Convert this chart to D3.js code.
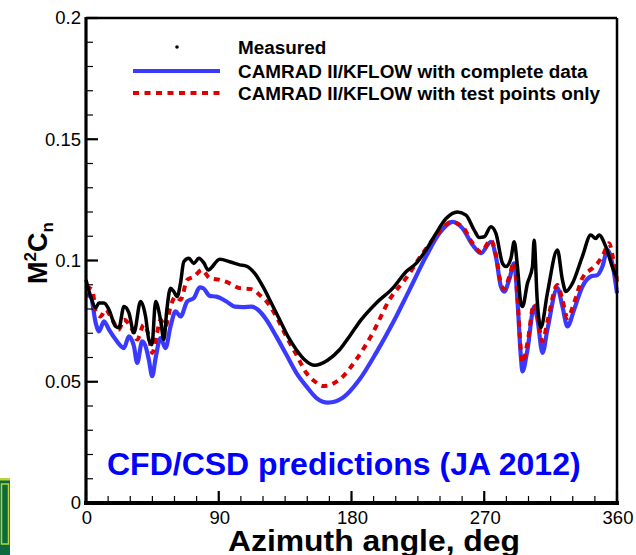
<!DOCTYPE html>
<html>
<head>
    <meta charset="utf-8">
    <script src="https://d3js.org/d3.v7.min.js"></script>
    <style>
        body { margin: 0; background: #fff; }
        svg text { font-family: Arial, "Liberation Sans", sans-serif; }
    </style>
</head>
<body>
<div id="chart"></div>
<script>
    // measured M^2Cn vs azimuth [deg, value]
    const measured = [
        [0, 0.0920], [3.2, 0.0851], [6.6, 0.0805], [8.8, 0.0825], [12.2, 0.0825], [15.6, 0.0797],
        [20.1, 0.0728], [22.3, 0.0723], [25.7, 0.0810], [29.1, 0.0784], [32.5, 0.0702], [37.0, 0.0831],
        [40.4, 0.0769], [42.6, 0.0674], [44.7, 0.0653], [47.2, 0.0831], [50.5, 0.0756], [52.8, 0.0674],
        [54.8, 0.0797], [57.3, 0.0886], [59.5, 0.0872], [61.8, 0.0851], [64.1, 0.0908], [66.3, 0.0995],
        [69.7, 0.1009], [73.1, 0.0988], [76.5, 0.1009], [79.9, 0.0990], [82.8, 0.0961], [90.7, 0.1005],
        [97.4, 0.0995], [104.2, 0.0982], [108.7, 0.0977], [114.4, 0.0947], [120.0, 0.0892], [125.7, 0.0824],
        [131.3, 0.0756], [136.9, 0.0687], [142.6, 0.0632], [148.2, 0.0591], [155.0, 0.0568], [163.8, 0.0589],
        [171.9, 0.0632], [178.6, 0.0687], [186.6, 0.0756], [196.7, 0.0824], [208.0, 0.0886], [217.0, 0.0954],
        [223.8, 0.0988], [230.5, 0.1043], [237.3, 0.1112], [244.1, 0.1173], [251.9, 0.1200], [257.6, 0.1187],
        [263.2, 0.1125], [266.6, 0.1095], [270.0, 0.1098], [274.5, 0.1139], [277.9, 0.1112], [282.4, 0.0988],
        [284.7, 0.0975], [288.1, 0.1009], [290.3, 0.1077], [292.5, 0.0975], [294.8, 0.0824], [295.9, 0.0810],
        [299.3, 0.0906], [302.7, 0.0975], [303.8, 0.1084], [305.9, 0.0838], [308.4, 0.0723], [312.8, 0.0865],
        [319.6, 0.1043], [323.0, 0.0920], [325.3, 0.0872], [329.8, 0.0906], [336.5, 0.1016], [342.2, 0.1105],
        [345.6, 0.1091], [347.8, 0.1105], [352.4, 0.1057], [356.8, 0.0975], [360, 0.0927]
    ];

    // CAMRAD II/KFLOW with complete data
    const completeData = [
        [0, 0.0858], [3.2, 0.0851], [6.6, 0.0742], [8.8, 0.0708], [12.2, 0.0749], [15.6, 0.0715],
        [20.1, 0.0674], [25.7, 0.0639], [29.1, 0.0687], [32.5, 0.0646], [34.7, 0.0578], [38.1, 0.0667],
        [40.4, 0.0646], [42.6, 0.0591], [44.9, 0.0523], [47.2, 0.0598], [50.5, 0.0680], [53.9, 0.0639],
        [57.3, 0.0728], [60.7, 0.0790], [64.1, 0.0769], [68.6, 0.0831], [73.1, 0.0845], [77.1, 0.0889],
        [79.4, 0.0886], [83.9, 0.0854], [88.4, 0.0851], [95.2, 0.0831], [100.8, 0.0810], [106.4, 0.0808],
        [112.1, 0.0810], [116.6, 0.0797], [122.3, 0.0756], [129.0, 0.0687], [135.8, 0.0612], [142.6, 0.0537],
        [149.3, 0.0482], [156.1, 0.0434], [164.0, 0.0414], [174.1, 0.0434], [185.4, 0.0509], [196.7, 0.0619],
        [208.0, 0.0742], [219.3, 0.0879], [230.5, 0.1016], [239.6, 0.1112], [248.6, 0.1159], [255.3, 0.1132],
        [262.1, 0.1064], [267.8, 0.1030], [274.5, 0.1077], [277.9, 0.1016], [281.3, 0.0892], [283.5, 0.0872],
        [286.9, 0.0920], [290.3, 0.0988], [292.5, 0.0838], [294.8, 0.0605], [295.9, 0.0543], [299.3, 0.0632],
        [303.8, 0.0810], [306.1, 0.0756], [309.5, 0.0619], [312.8, 0.0715], [319.6, 0.0886], [323.0, 0.0810],
        [326.4, 0.0728], [330.9, 0.0797], [336.5, 0.0892], [342.2, 0.0934], [346.7, 0.0940], [350.1, 0.0975],
        [353.5, 0.1043], [356.8, 0.0988], [360, 0.0865]
    ];

    // CAMRAD II/KFLOW with test points only
    const testPoints = [
        [0, 0.0892], [4.3, 0.0879], [6.6, 0.0790], [9.9, 0.0769], [13.3, 0.0797], [17.8, 0.0756],
        [22.3, 0.0715], [25.7, 0.0756], [31.3, 0.0715], [34.7, 0.0674], [39.2, 0.0735], [42.6, 0.0687],
        [44.9, 0.0619], [48.2, 0.0701], [50.5, 0.0756], [53.9, 0.0728], [57.3, 0.0810], [60.7, 0.0851],
        [64.1, 0.0838], [68.6, 0.0920], [73.1, 0.0933], [78.7, 0.0961], [83.9, 0.0927], [90.7, 0.0920],
        [97.4, 0.0906], [104.2, 0.0886], [112.1, 0.0882], [117.7, 0.0858], [123.4, 0.0824], [130.1, 0.0756],
        [135.8, 0.0687], [142.6, 0.0612], [149.3, 0.0537], [155.0, 0.0502], [160.6, 0.0482], [171.9, 0.0509],
        [183.2, 0.0591], [194.4, 0.0701], [205.7, 0.0838], [217.0, 0.0927], [228.3, 0.1030], [239.6, 0.1118],
        [247.5, 0.1159], [255.3, 0.1139], [262.1, 0.1071], [267.8, 0.1035], [274.5, 0.1084], [277.9, 0.1023],
        [281.3, 0.0904], [283.5, 0.0883], [286.9, 0.0932], [290.3, 0.0994], [292.5, 0.0846], [294.8, 0.0632],
        [295.9, 0.0578], [299.3, 0.0661], [303.8, 0.0821], [306.1, 0.0772], [309.5, 0.0666], [312.8, 0.0747],
        [319.6, 0.0899], [323.0, 0.0838], [326.4, 0.0763], [330.9, 0.0825], [336.5, 0.0927], [343.3, 0.0968],
        [346.7, 0.0988], [350.5, 0.1023], [354.6, 0.1071], [357.3, 0.1010], [360, 0.0913]
    ];

    // ticks
    const xTicks = [0, 90, 180, 270, 360];
    const xMinor = d3.range(0, 361, 15);
    const yTicks = [0, 0.05, 0.1, 0.15, 0.2];
    const yTickLabels = ["0", "0.05", "0.1", "0.15", "0.2"];
    const yMinor = d3.range(0, 0.2001, 0.01);

    const legendLabels = [
        "Measured",
        "CAMRAD II/KFLOW with complete data",
        "CAMRAD II/KFLOW with test points only"
    ];

    const width = 636, height = 555;
    const margin = { left: 86, right: 617, top: 18, bottom: 503 };

    const svg = d3.select("#chart").append("svg")
        .attr("width", width)
        .attr("height", height);

    svg.append("rect").attr("width", width).attr("height", height).attr("fill", "#fff");

    const x = d3.scaleLinear().domain([0, 360]).range([margin.left, margin.right]);
    const y = d3.scaleLinear().domain([0, 0.2]).range([margin.bottom, margin.top]);

    // curves
    const line = d3.line()
        .x(d => x(d[0]))
        .y(d => y(d[1]))
        .curve(d3.curveMonotoneX);

    svg.append("path").datum(completeData)
        .attr("d", line).attr("fill", "none")
        .attr("stroke", "#3a3aff").attr("stroke-width", 4.2);

    svg.append("path").datum(testPoints)
        .attr("d", line).attr("fill", "none")
        .attr("stroke", "#dd0000").attr("stroke-width", 4)
        .attr("stroke-dasharray", "6,5.5");

    svg.append("path").datum(measured)
        .attr("d", line).attr("fill", "none")
        .attr("stroke", "#000").attr("stroke-width", 3.5);

    // frame
    svg.append("line").attr("x1", margin.left).attr("x2", margin.right)
        .attr("y1", margin.top).attr("y2", margin.top)
        .attr("stroke", "#000").attr("stroke-width", 2.5);
    svg.append("line").attr("x1", margin.right).attr("x2", margin.right)
        .attr("y1", margin.top).attr("y2", margin.bottom)
        .attr("stroke", "#000").attr("stroke-width", 2.5);

    // y axis, ticks point inward
    const yAxis = svg.append("g").attr("transform", `translate(${margin.left},0)`);
    yAxis.selectAll(".minor").data(yMinor).enter().append("line")
        .attr("x1", 0).attr("x2", 7)
        .attr("y1", d => y(d)).attr("y2", d => y(d))
        .attr("stroke", "#000").attr("stroke-width", 1.2);
    yAxis.selectAll(".major").data(yTicks).enter().append("line")
        .attr("x1", 0).attr("x2", 12)
        .attr("y1", d => y(d)).attr("y2", d => y(d))
        .attr("stroke", "#000").attr("stroke-width", 2.2);
    yAxis.selectAll("text").data(yTicks).enter().append("text")
        .attr("x", -5).attr("y", d => y(d)).attr("dy", "0.35em")
        .attr("text-anchor", "end").attr("font-size", 18.5)
        .text((d, i) => yTickLabels[i]);
    yAxis.append("line").attr("x1", 0).attr("x2", 0)
        .attr("y1", margin.top - 1).attr("y2", margin.bottom + 2)
        .attr("stroke", "#000").attr("stroke-width", 3.2);

    // x axis
    const xAxis = svg.append("g").attr("transform", `translate(0,${margin.bottom})`);
    xAxis.selectAll(".minor").data(xMinor).enter().append("line")
        .attr("x1", d => x(d)).attr("x2", d => x(d))
        .attr("y1", 0).attr("y2", -7)
        .attr("stroke", "#000").attr("stroke-width", 1.2);
    xAxis.selectAll(".major").data(xTicks).enter().append("line")
        .attr("x1", d => x(d)).attr("x2", d => x(d))
        .attr("y1", 0).attr("y2", -12)
        .attr("stroke", "#000").attr("stroke-width", 2.2);
    xAxis.selectAll("text").data(xTicks).enter().append("text")
        .attr("x", d => x(d) + 1).attr("y", 21)
        .attr("text-anchor", "middle").attr("font-size", 18.5)
        .text(d => d);
    xAxis.append("line").attr("x1", margin.left - 2).attr("x2", margin.right + 2)
        .attr("y1", 0).attr("y2", 0)
        .attr("stroke", "#000").attr("stroke-width", 4.2);

    // axis titles
    svg.append("text")
        .attr("x", 228).attr("y", 551)
        .attr("font-size", 29).attr("font-weight", "bold")
        .attr("textLength", 292).attr("lengthAdjust", "spacingAndGlyphs")
        .text("Azimuth angle, deg");

    const yTitle = svg.append("text")
        .attr("transform", "translate(47,253) rotate(-90)")
        .attr("text-anchor", "middle")
        .attr("font-size", 27).attr("font-weight", "bold");
    yTitle.append("tspan").text("M");
    yTitle.append("tspan").attr("font-size", 17).attr("dy", -11).text("2");
    yTitle.append("tspan").attr("dy", 11).text("C");
    yTitle.append("tspan").attr("font-size", 17).attr("dy", 6).text("n");

    // legend
    const legY = [47, 71, 93];
    svg.append("circle").attr("cx", 177).attr("cy", legY[0]).attr("r", 1.8).attr("fill", "#000");
    svg.append("line").attr("x1", 133).attr("x2", 220).attr("y1", legY[1]).attr("y2", legY[1])
        .attr("stroke", "#3a3aff").attr("stroke-width", 4.2);
    svg.append("line").attr("x1", 133).attr("x2", 220).attr("y1", legY[2]).attr("y2", legY[2])
        .attr("stroke", "#dd0000").attr("stroke-width", 4).attr("stroke-dasharray", "6,5.5");
    svg.selectAll(".leg").data(legendLabels).enter().append("text")
        .attr("x", 238).attr("y", (d, i) => legY[i]).attr("dy", "0.36em")
        .attr("font-size", 18.9).attr("font-weight", "bold")
        .text(d => d);

    // annotation
    svg.append("text")
        .attr("x", 107).attr("y", 475)
        .attr("font-size", 32).attr("font-weight", "bold")
        .attr("fill", "#0000ff")
        .text("CFD/CSD predictions (JA 2012)");

    // logo fragment at bottom left
    svg.append("rect").attr("x", 0).attr("y", 478).attr("width", 10).attr("height", 77)
        .attr("fill", "#0c6a3c");
    svg.append("rect").attr("x", 0).attr("y", 478).attr("width", 10).attr("height", 2.5)
        .attr("fill", "#b8d436");
    svg.append("rect").attr("x", 1.5).attr("y", 484).attr("width", 7).attr("height", 60)
        .attr("fill", "none").attr("stroke", "#b8d436").attr("stroke-width", 1.5);
</script>
</body>
</html>
